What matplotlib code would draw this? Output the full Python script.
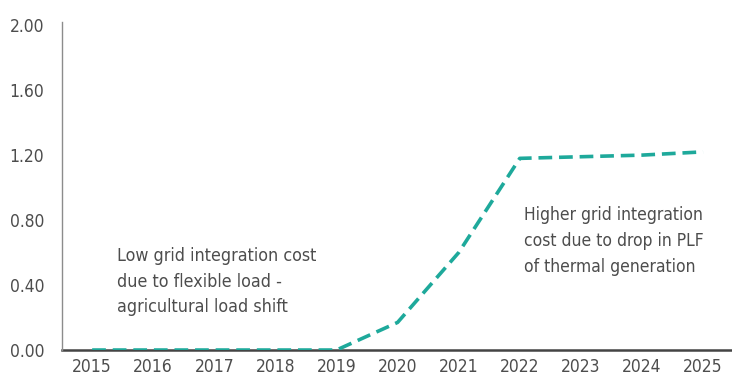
import matplotlib
matplotlib.use("Agg")
from matplotlib import pyplot as plt

years = [2015, 2016, 2017, 2018, 2019, 2020, 2021, 2022, 2023, 2024, 2025]
cost = [0.0, 0.0, 0.0, 0.0, 0.0, 0.17, 0.60, 1.18, 1.19, 1.20, 1.22]
y_ticks = [0.0, 0.4, 0.8, 1.2, 1.6, 2.0]

note_low = "Low grid integration cost\ndue to flexible load -\nagricultural load shift"
note_high = "Higher grid integration\ncost due to drop in PLF\nof thermal generation"

line_color = "#1ea99b"
text_color = "#4d4d4d"

plt.rcParams["font.family"] = ["DejaVu Sans"]
plt.rcParams["font.stretch"] = "condensed"

fig = plt.figure(figsize=(7.32, 3.78), dpi=100)
ax = fig.add_axes([0.085, 0.074, 0.913, 0.868])

ax.plot(years, cost, color=line_color, linewidth=2.6,
        linestyle=(0, (3.8, 1.9)), dash_capstyle="butt",
        solid_joinstyle="round", dash_joinstyle="round")

ax.set_xlim(2014.51, 2025.45)
ax.set_ylim(0, 2.02)
ax.set_xticks(years)
ax.set_yticks(y_ticks)
ax.set_yticklabels([f"{v:.2f}" for v in y_ticks])
ax.tick_params(axis="both", length=0, labelsize=12.5, colors=text_color)
ax.tick_params(axis="y", pad=13)
ax.tick_params(axis="x", pad=6)

for side in ("top", "right"):
    ax.spines[side].set_visible(False)
ax.spines["left"].set_color("#8c8c8c")
ax.spines["left"].set_linewidth(1.0)
ax.spines["bottom"].set_color("#444444")
ax.spines["bottom"].set_linewidth(1.8)
ax.spines["bottom"].set_zorder(1)

ax.text(2015.41, 0.635, note_low, fontsize=12.8, color=text_color,
        va="top", ha="left", linespacing=1.55)
ax.text(2022.07, 0.885, note_high, fontsize=12.5, color=text_color,
        va="top", ha="left", linespacing=1.55)

fig.savefig("out.png", dpi=100)
